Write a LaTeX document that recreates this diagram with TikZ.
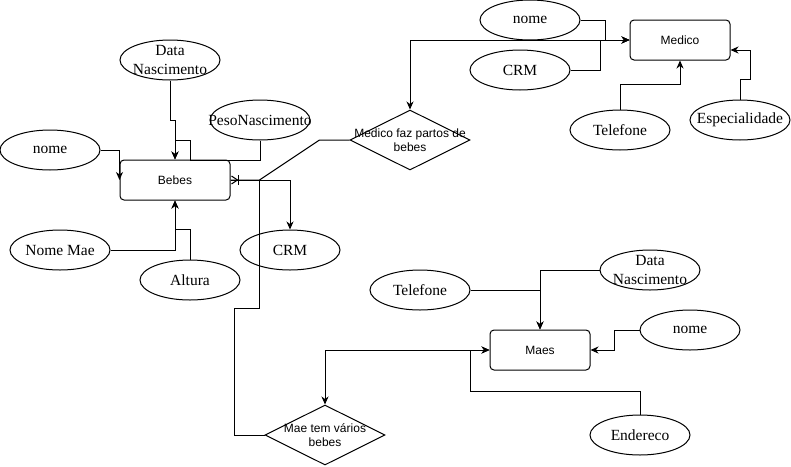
\documentclass[tikz,border=0pt]{standalone}
\usepackage{fontspec}
\setmainfont{Liberation Serif}
\newfontfamily\erSans{Liberation Sans}
\usetikzlibrary{shapes.geometric,arrows.meta}

\begin{document}
\begin{tikzpicture}[x=1pt,y=-1pt,line width=1pt,
  entity/.style={draw,rounded corners=4pt,minimum width=100pt,minimum height=40pt,inner sep=0pt,font=\erSans\fontsize{12}{14}\selectfont},
  attrtext/.style={font=\fontsize{15.5}{19}\selectfont,align=center,inner sep=0pt},
  attr/.style={ellipse,draw,minimum width=100pt,minimum height=40pt,inner sep=0pt,label={[attrtext]center:#1}},
  reltext/.style={font=\erSans\fontsize{12}{14}\selectfont,align=center,inner sep=0pt},
  relation/.style={diamond,draw,minimum width=120pt,minimum height=60pt,inner sep=0pt,label={[reltext]center:#1}},
  arr/.style={-{Stealth[length=8pt,width=7pt,inset=2.5pt]}},
  arrboth/.style={{Stealth[length=8pt,width=7pt,inset=2.5pt]}-{Stealth[length=8pt,width=7pt,inset=2.5pt]}}]

\useasboundingbox (0,0) rectangle (791,466);

\node[entity,minimum width=110pt] (bebes) at (175,180) {Bebes};
\node[entity] (medico) at (680,40) {Medico};
\node[entity] (maes) at (540,350) {Maes};

\node[attr={Data\\Nascimento}] (datab) at (170,60) {};
\node[attr=PesoNascimento] (peso) at (260,120) {};
\node[attr=nome] (nomeb) at (50,150) {};
\node[attr=Nome Mae] (nomemae) at (60,250) {};
\node[attr=Altura] (altura) at (190,280) {};
\node[attr=CRM] (crmb) at (290,250) {};

\node[attr=nome] (nomem) at (530,20) {};
\node[attr=CRM] (crmm) at (520,70) {};
\node[attr=Telefone] (telm) at (620,130) {};
\node[attr=Especialidade] (espm) at (740,120) {};

\node[attr=Telefone] (telmae) at (420,290) {};
\node[attr={Data\\Nascimento}] (datamae) at (650,270) {};
\node[attr=nome] (nomemaes) at (690,330) {};
\node[attr=Endereco] (endmae) at (640,435) {};

\node[relation={Medico faz partos de\\bebes}] (faz) at (410,140) {};
\node[relation={Mae tem vários\\bebes}] (tem) at (325,435) {};

\draw[arr] (datab.south) -- ++(0,40) -| (bebes.north);
\draw[arr] (peso.south) -- ++(0,20) -- ++(-70,0) -- ++(0,-20) -- ++(-15,0) -- (bebes.north);
\draw[arr] (nomeb.east) -| (bebes.west);
\draw[arr] (nomemae.east) -| (bebes.south);
\draw[arr] (altura.north) -- ++(0,-30) -| (bebes.south);
\draw[arr] (bebes.east) -| (crmb.north);

\draw (faz.west) -- ++(-30,0) -- ++(-60,40) -- (bebes.east);
\draw ([shift={(1,-4)}]bebes.east) -- ([shift={(7,0)}]bebes.east) -- ([shift={(1,4)}]bebes.east);
\draw ([shift={(8,-5)}]bebes.east) -- ([shift={(8,5)}]bebes.east);
\draw (tem.west) -- ++(-30,0) -- ++(0,-127) -- ++(25,0) -- ++(0,-128);

\draw[arrboth] (faz.north) |- (medico.west);
\draw[arr] (nomem.east) -- ++(25,0) |- (medico.west);
\draw[arr] (crmm.east) -- ++(30,0) |- (medico.west);
\draw[arr] (telm.north) -- ++(0,-25) -| (medico.south);
\draw[arr] (espm.north) -- ++(0,-20) -- ++(10,0) |- ([yshift=-10pt]medico.east);

\draw[arr] (telmae.east) -| (maes.north);
\draw[arr] (datamae.west) -| (maes.north);
\draw[arr] (nomemaes.west) -- ++(-25,0) |- (maes.east);
\draw[arrboth] (tem.north) |- (maes.west);
\draw[arr] (endmae.north) -- ++(0,-23) -- ++(-170,0) |- (maes.west);
\end{tikzpicture}
\end{document}
